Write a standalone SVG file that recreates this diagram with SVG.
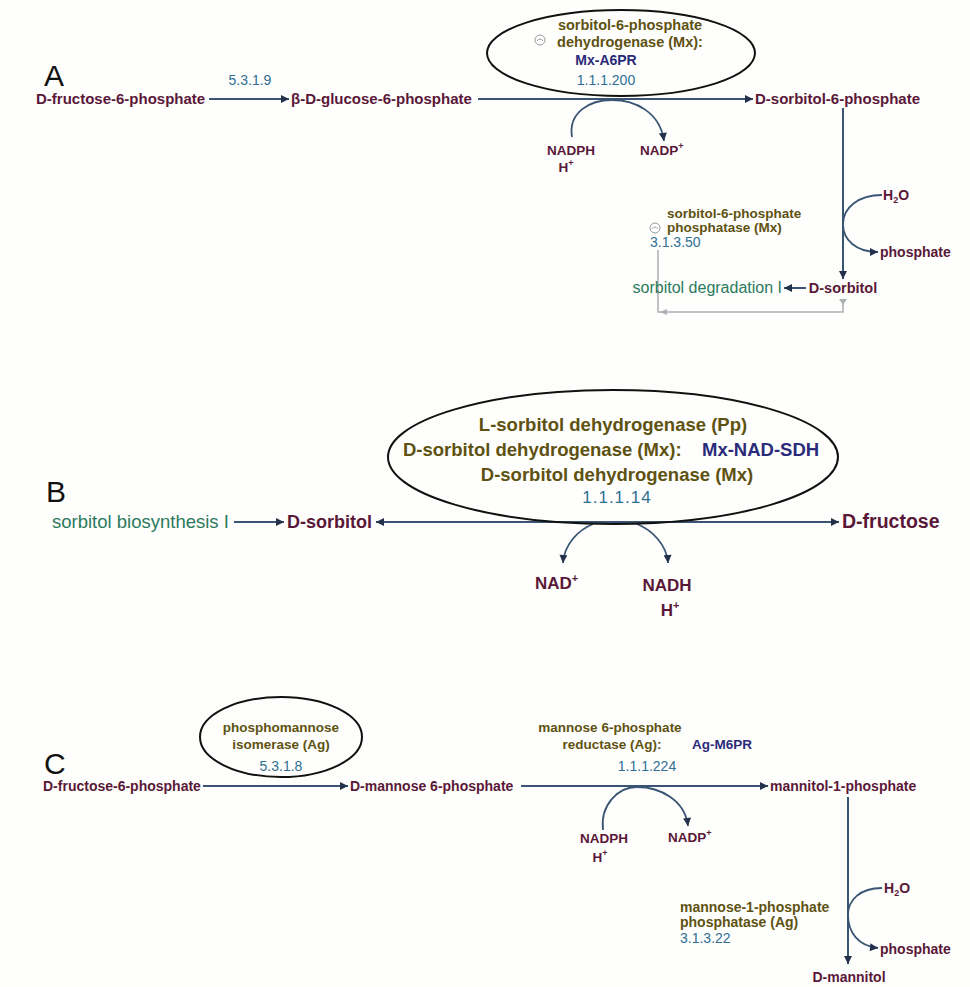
<svg xmlns="http://www.w3.org/2000/svg" width="970" height="987" viewBox="0 0 970 987">
<style>
text{font-family:"Liberation Sans",Arial,sans-serif}
.met{fill:#5a1838;font-weight:bold}
.enz{fill:#5e5212;font-weight:bold}
.ec{fill:#2f6f93}
.gene{fill:#2b2b7a;font-weight:bold}
.pw{fill:#2c7a5c}
.lbl{fill:#111;font-size:30px}
.ln{fill:none;stroke:#3a5573;stroke-width:2}
.cof{fill:none;stroke:#3a5573;stroke-width:1.8}
.ell{fill:none;stroke:#111;stroke-width:2}
.gray{fill:none;stroke:#aab0b4;stroke-width:1.5}
.icon{fill:#fff;stroke:#999;stroke-width:1}
</style>
<defs>
<marker id="ah" viewBox="0 0 10 10" refX="10" refY="5" markerWidth="9" markerHeight="8" markerUnits="userSpaceOnUse" orient="auto-start-reverse">
<path d="M0,0 L10,5 L0,10 z" fill="#23314a"/>
</marker>
</defs>
<rect width="970" height="987" fill="#fefefc"/>

<!-- Panel labels -->
<text class="lbl" x="44" y="86">A</text>
<text class="lbl" x="46" y="502">B</text>
<text class="lbl" x="44" y="774">C</text>

<g id="connectors">
<!-- A -->
<path class="ln" d="M209,99 H289" marker-end="url(#ah)"/>
<path class="ln" d="M478,99 H753" marker-end="url(#ah)"/>
<path class="cof" d="M572,137 C568,112 590,100 612,100 C635,100 660,112 664,141" marker-end="url(#ah)"/>
<path class="ln" d="M843,108 V279" marker-end="url(#ah)"/>
<path class="cof" d="M882,195 C858,195 843,208 843,224 C843,240 856,252 878,252" marker-end="url(#ah)"/>
<path class="ln" d="M806,288 H784" marker-end="url(#ah)"/>
<path class="gray" d="M658,250 V312 H843 V302"/>
<path d="M660,312 L667,309 L667,315 z" fill="#aab0b4"/>
<path d="M839,299 L847,299 L843,305 z" fill="#aab0b4"/>
<!-- B -->
<path class="ln" d="M234,522 H284" marker-end="url(#ah)"/>
<path class="ln" d="M376,522 H839" marker-start="url(#ah)" marker-end="url(#ah)"/>
<path class="cof" d="M593,524 C578,530 564,545 563,563" marker-end="url(#ah)"/>
<path class="cof" d="M637,524 C652,530 667,545 668,563" marker-end="url(#ah)"/>
<!-- C -->
<path class="ln" d="M203,786 H348" marker-end="url(#ah)"/>
<path class="ln" d="M521,786 H768" marker-end="url(#ah)"/>
<path class="cof" d="M603,830 C600,805 618,787 637,787 C660,787 685,800 688,826" marker-end="url(#ah)"/>
<path class="ln" d="M848,797 V964" marker-end="url(#ah)"/>
<path class="cof" d="M882,888 C860,888 848,900 848,915 C848,932 858,946 878,948" marker-end="url(#ah)"/>
</g>

<!-- Panel A nodes -->
<g id="A-f6p"><text class="met" x="36" y="104" font-size="15">D-fructose-6-phosphate</text></g>
<g id="A-ec5319"><text class="ec" x="250" y="85" font-size="14" text-anchor="middle">5.3.1.9</text></g>
<g id="A-g6p"><text class="met" x="291" y="104" font-size="15">β-D-glucose-6-phosphate</text></g>
<g id="A-s6pdh">
<ellipse class="ell" cx="621" cy="53" rx="134" ry="43"/>
<circle class="icon" cx="540" cy="40" r="5"/>
<path d="M537,41 Q540,37 543,41" fill="none" stroke="#999" stroke-width="1"/>
<text class="enz" x="630" y="30" font-size="14.5" text-anchor="middle">sorbitol-6-phosphate</text>
<text class="enz" x="630" y="47" font-size="14.5" text-anchor="middle">dehydrogenase (Mx):</text>
<text class="gene" x="606" y="65" font-size="14" text-anchor="middle">Mx-A6PR</text>
<text class="ec" x="606" y="85" font-size="14" text-anchor="middle">1.1.1.200</text>
</g>
<g id="A-s6p"><text class="met" x="755" y="104" font-size="15">D-sorbitol-6-phosphate</text></g>
<g id="A-nadph">
<text class="met" x="571" y="155" font-size="13.5" text-anchor="middle">NADPH</text>
<text class="met" x="566" y="172" font-size="13.5" text-anchor="middle">H<tspan font-size="9" dy="-6">+</tspan></text>
</g>
<g id="A-nadp"><text class="met" x="640" y="155" font-size="13.5">NADP<tspan font-size="9" dy="-6">+</tspan></text></g>
<g id="A-s6pp">
<circle class="icon" cx="655" cy="228" r="5"/>
<path d="M652,229 Q655,225 658,229" fill="none" stroke="#999" stroke-width="1"/>
<text class="enz" x="667" y="218" font-size="13.5">sorbitol-6-phosphate</text>
<text class="enz" x="667" y="232" font-size="13.5">phosphatase (Mx)</text>
<text class="ec" x="650" y="247" font-size="14">3.1.3.50</text>
</g>
<g id="A-h2o"><text class="met" x="883" y="200" font-size="14">H<tspan font-size="9" dy="3">2</tspan><tspan dy="-3">O</tspan></text></g>
<g id="A-pi"><text class="met" x="880" y="257" font-size="14">phosphate</text></g>
<g id="A-sorbitol"><text class="met" x="843" y="293" font-size="14.5" text-anchor="middle">D-sorbitol</text></g>
<g id="A-sdeg"><text class="pw" x="782" y="293" font-size="16" text-anchor="end">sorbitol degradation I</text></g>

<!-- Panel B nodes -->
<g id="B-sbio"><text class="pw" x="52" y="528" font-size="18.5">sorbitol biosynthesis I</text></g>
<g id="B-sorbitol"><text class="met" x="287" y="528" font-size="18">D-sorbitol</text></g>
<g id="B-sdh">
<ellipse class="ell" cx="613" cy="457" rx="225" ry="67"/>
<text class="enz" x="613" y="431" font-size="18.5" text-anchor="middle">L-sorbitol dehydrogenase (Pp)</text>
<text class="enz" x="403" y="456" font-size="18.5">D-sorbitol dehydrogenase (Mx):</text>
<text class="gene" x="702" y="456" font-size="18.5">Mx-NAD-SDH</text>
<text class="enz" x="617" y="481" font-size="18.5" text-anchor="middle">D-sorbitol dehydrogenase (Mx)</text>
<text class="ec" x="617" y="503" font-size="17" letter-spacing="1" text-anchor="middle">1.1.1.14</text>
</g>
<g id="B-fructose"><text class="met" x="842" y="528" font-size="19.5">D-fructose</text></g>
<g id="B-nad"><text class="met" x="535" y="589" font-size="17">NAD<tspan font-size="11" dy="-7">+</tspan></text></g>
<g id="B-nadh">
<text class="met" x="667" y="591" font-size="17" text-anchor="middle">NADH</text>
<text class="met" x="670" y="616" font-size="17" text-anchor="middle">H<tspan font-size="11" dy="-7">+</tspan></text>
</g>

<!-- Panel C nodes -->
<g id="C-f6p"><text class="met" x="43" y="791" font-size="14">D-fructose-6-phosphate</text></g>
<g id="C-pmi">
<ellipse class="ell" cx="281" cy="737" rx="81" ry="40"/>
<text class="enz" x="281" y="732" font-size="13.5" text-anchor="middle">phosphomannose</text>
<text class="enz" x="281" y="749" font-size="13.5" text-anchor="middle">isomerase (Ag)</text>
<text class="ec" x="281" y="771" font-size="14" text-anchor="middle">5.3.1.8</text>
</g>
<g id="C-m6p"><text class="met" x="350" y="791" font-size="14">D-mannose 6-phosphate</text></g>
<g id="C-m6pr">
<text class="enz" x="610" y="732" font-size="13.5" text-anchor="middle">mannose 6-phosphate</text>
<text class="enz" x="612" y="749" font-size="13.5" text-anchor="middle">reductase (Ag):</text>
<text class="gene" x="692" y="749" font-size="13.5">Ag-M6PR</text>
<text class="ec" x="647" y="771" font-size="14" text-anchor="middle">1.1.1.224</text>
</g>
<g id="C-m1p"><text class="met" x="770" y="791" font-size="14">mannitol-1-phosphate</text></g>
<g id="C-nadph">
<text class="met" x="604" y="843" font-size="13.5" text-anchor="middle">NADPH</text>
<text class="met" x="600" y="862" font-size="13.5" text-anchor="middle">H<tspan font-size="9" dy="-6">+</tspan></text>
</g>
<g id="C-nadp"><text class="met" x="668" y="842" font-size="13.5">NADP<tspan font-size="9" dy="-6">+</tspan></text></g>
<g id="C-m1pp">
<text class="enz" x="680" y="912" font-size="14">mannose-1-phosphate</text>
<text class="enz" x="680" y="927" font-size="14">phosphatase (Ag)</text>
<text class="ec" x="680" y="943" font-size="14">3.1.3.22</text>
</g>
<g id="C-h2o"><text class="met" x="884" y="893" font-size="14">H<tspan font-size="9" dy="3">2</tspan><tspan dy="-3">O</tspan></text></g>
<g id="C-pi"><text class="met" x="880" y="954" font-size="14">phosphate</text></g>
<g id="C-mannitol"><text class="met" x="849" y="982" font-size="14" text-anchor="middle">D-mannitol</text></g>
</svg>
